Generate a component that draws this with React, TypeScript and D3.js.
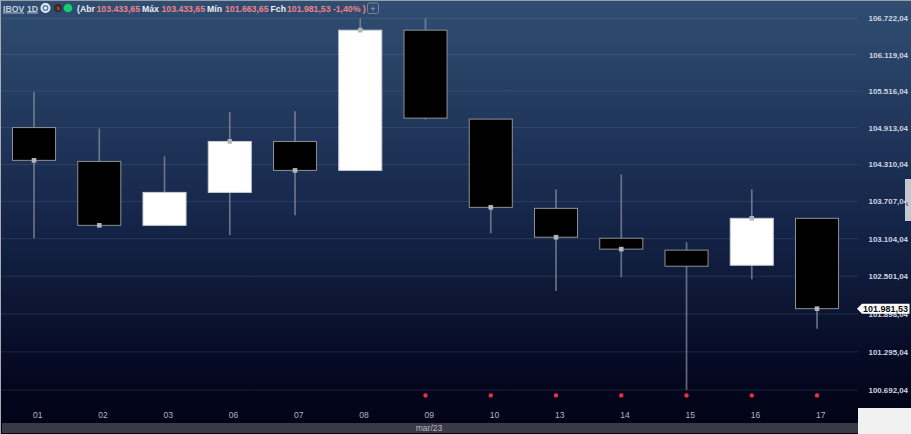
import React, { useEffect, useRef } from 'react';
import * as d3 from 'd3';

const days = ['01', '02', '03', '06', '07', '08', '09', '10', '13', '14', '15', '16', '17'];
const opens = [104913, 104359, 103320, 103854, 104685, 104212, 106524, 105052, 103595, 103112, 102920, 102677, 103433.65];
const closes = [104376, 103320, 103854, 104685, 104212, 106524, 105068, 103611, 103128, 102936, 102661, 103433.65, 101981.53];
const highs = [105500, 104897, 104442, 105167, 105183, 106722, 106722, 105052, 103903, 104147, 103048, 103903, 103433.65];
const lows = [103112, 103320, 103320, 103160, 103482, 104212, 105045, 103192, 102262, 102485, 100692, 102453, 101663.65];

const axisTicks = [106722.04, 106119.04, 105516.04, 104913.04, 104310.04, 103707.04, 103104.04, 102501.04, 101898.04, 101295.04, 100692.04];
const alertDays = ['09', '10', '13', '14', '15', '16', '17'];
// days that show the small square on the close
const markedDays = ['01', '02', '06', '07', '08', '10', '13', '14', '16', '17'];
const lastPrice = 101981.53;
const monthLabel = 'mar/23';

const headerParts = [
  { text: '(Abr', x: 77, color: '#e8edf5' },
  { text: '103.433,65', x: 96.5, color: '#ee8486' },
  { text: 'Máx', x: 142, color: '#e8edf5' },
  { text: '103.433,65', x: 161.5, color: '#ee8486' },
  { text: 'Mín', x: 207, color: '#e8edf5' },
  { text: '101.663,65', x: 225, color: '#ee8486' },
  { text: 'Fch', x: 270.5, color: '#e8edf5' },
  { text: '101.981,53 -1,40% )', x: 287, color: '#ee8486' }
];

const width = 911;
const height = 434;
const fontFamily = '"Liberation Sans", sans-serif';

const fmt = (v: number) =>
  v.toFixed(2).replace('.', ',').replace(/\B(?=(\d{3})+(?!\d))/, '.');

const App: React.FC = () => {
  const svgRef = useRef<SVGSVGElement>(null);

  useEffect(() => {
    if (!svgRef.current) return;
    const svg = d3.select(svgRef.current);
    svg.selectAll('*').remove();

    const plotRight = 858;

    const x = d3.scaleBand<string>()
      .domain(days)
      .range([1.4, 849.65])
      .paddingInner(0.34)
      .paddingOuter(0.17);
    const cx = (d: string) => (x(d) as number) + x.bandwidth() / 2;

    // the platform uses a log price axis, the ticks get wider going down
    const y = d3.scaleLog()
      .domain([106722.04, 100692.04])
      .range([18.3, 390]);

    const defs = svg.append('defs');
    const grad = defs.append('linearGradient')
      .attr('id', 'bg')
      .attr('x1', 0).attr('y1', 0).attr('x2', 0).attr('y2', 1);
    grad.append('stop').attr('offset', '0%').attr('stop-color', '#304e72');
    grad.append('stop').attr('offset', '50%').attr('stop-color', '#15264a');
    grad.append('stop').attr('offset', '90%').attr('stop-color', '#03051c');
    grad.append('stop').attr('offset', '100%').attr('stop-color', '#020318');

    svg.append('rect')
      .attr('width', width).attr('height', height)
      .attr('fill', 'url(#bg)');

    // frame edges
    svg.append('rect').attr('width', width).attr('height', 1).attr('fill', '#9a9ea6');
    svg.append('rect').attr('width', 1).attr('height', height).attr('fill', '#a8abb2');

    // grid
    svg.selectAll('.grid')
      .data(axisTicks)
      .enter()
      .append('line')
      .attr('class', 'grid')
      .attr('x1', 1)
      .attr('x2', plotRight)
      .attr('y1', d => y(d))
      .attr('y2', d => y(d))
      .attr('stroke', '#7d8fb0')
      .attr('stroke-opacity', 0.2)
      .attr('stroke-width', 1);

    const idx = d3.range(days.length);

    // wicks
    svg.selectAll('.wick')
      .data(idx)
      .enter()
      .append('line')
      .attr('class', 'wick')
      .attr('x1', i => cx(days[i]))
      .attr('x2', i => cx(days[i]))
      .attr('y1', i => y(highs[i]))
      .attr('y2', i => y(lows[i]))
      .attr('stroke', '#8b93a0')
      .attr('stroke-opacity', 0.7)
      .attr('stroke-width', 1.7);

    // bodies
    svg.selectAll('.body')
      .data(idx)
      .enter()
      .append('rect')
      .attr('class', 'body')
      .attr('x', i => x(days[i]) as number)
      .attr('width', x.bandwidth())
      .attr('y', i => y(Math.max(opens[i], closes[i])))
      .attr('height', i => Math.abs(y(opens[i]) - y(closes[i])))
      .attr('fill', i => (closes[i] >= opens[i] ? '#ffffff' : '#000000'))
      .attr('stroke', i => (closes[i] >= opens[i] ? '#c8ccd2' : '#8f9194'))
      .attr('stroke-width', 1);

    // close markers
    svg.selectAll('.close-mark')
      .data(idx.filter(i => markedDays.includes(days[i])))
      .enter()
      .append('rect')
      .attr('class', 'close-mark')
      .attr('x', i => cx(days[i]) - 2.3)
      .attr('y', i => y(closes[i]) - 2.3)
      .attr('width', 4.6)
      .attr('height', 4.6)
      .attr('fill', '#b4b6ba');

    // red alert dots
    svg.selectAll('.alert')
      .data(alertDays)
      .enter()
      .append('circle')
      .attr('class', 'alert')
      .attr('cx', d => cx(d))
      .attr('cy', 395.4)
      .attr('r', 2.2)
      .attr('fill', '#f0313c');

    // date labels
    svg.selectAll('.day')
      .data(days)
      .enter()
      .append('text')
      .attr('class', 'day')
      .attr('x', d => cx(d) + 3.7)
      .attr('y', 418)
      .attr('text-anchor', 'middle')
      .attr('font-family', fontFamily)
      .attr('font-size', 8.5)
      .attr('fill', '#b4b6bc')
      .text(d => d);

    // month strip
    svg.append('rect')
      .attr('x', 2).attr('y', 423)
      .attr('width', plotRight - 2).attr('height', 10)
      .attr('fill', '#3a3a46');
    svg.append('text')
      .attr('x', 429).attr('y', 431)
      .attr('text-anchor', 'middle')
      .attr('font-family', fontFamily)
      .attr('font-size', 8.5)
      .attr('fill', '#b8b8c0')
      .text(monthLabel);

    // corner below the price axis
    svg.append('rect')
      .attr('x', 858).attr('y', 408)
      .attr('width', 53).attr('height', 26)
      .attr('fill', '#f1f1f1');

    // price axis labels
    svg.selectAll('.tick-label')
      .data(axisTicks)
      .enter()
      .append('text')
      .attr('class', 'tick-label')
      .attr('x', 908)
      .attr('y', d => y(d) + 3)
      .attr('text-anchor', 'end')
      .attr('font-family', fontFamily)
      .attr('font-size', 7.9)
      .attr('font-weight', 700)
      .attr('fill', '#cfd6e2')
      .text(d => fmt(d));

    // last price tag
    const py = y(lastPrice);
    svg.append('path')
      .attr('d', `M857,${py} L862,${py - 5} H909.5 V${py + 5} H862 Z`)
      .attr('fill', '#ffffff');
    svg.append('text')
      .attr('x', 908)
      .attr('y', py + 3.3)
      .attr('text-anchor', 'end')
      .attr('font-family', fontFamily)
      .attr('font-size', 9)
      .attr('font-weight', 700)
      .attr('fill', '#111111')
      .text(fmt(lastPrice));

    // collapse handle on the right edge
    svg.append('rect')
      .attr('x', 905).attr('y', 179)
      .attr('width', 6).attr('height', 42)
      .attr('fill', '#c6c8cf');
    svg.append('text')
      .attr('x', 905.5).attr('y', 207)
      .attr('font-family', fontFamily)
      .attr('font-size', 9)
      .attr('font-weight', 700)
      .attr('fill', '#50545c')
      .text('‹');

    // header
    const header = svg.append('g').attr('font-family', fontFamily);
    header.append('text')
      .attr('x', 3).attr('y', 11.5)
      .attr('font-size', 8.7)
      .attr('font-weight', 700)
      .attr('fill', '#c5d0de')
      .attr('text-decoration', 'underline')
      .text('IBOV');
    header.append('text')
      .attr('x', 27).attr('y', 11.5)
      .attr('font-size', 8.7)
      .attr('font-weight', 700)
      .attr('fill', '#c5d0de')
      .attr('text-decoration', 'underline')
      .text('1D');

    header.append('circle').attr('cx', 45.5).attr('cy', 8).attr('r', 4).attr('fill', '#4a7cb0')
      .attr('stroke', '#e6ebf2').attr('stroke-width', 2);
    header.append('circle').attr('cx', 45.5).attr('cy', 8).attr('r', 1.6).attr('fill', '#ffffff');
    header.append('circle').attr('cx', 58).attr('cy', 8).attr('r', 4.2).attr('fill', '#3c2c28');
    header.append('text')
      .attr('x', 58).attr('y', 10.5)
      .attr('text-anchor', 'middle')
      .attr('font-size', 8)
      .attr('font-weight', 700)
      .attr('fill', '#e8801c')
      .text('›');
    header.append('circle').attr('cx', 68).attr('cy', 8).attr('r', 4.3).attr('fill', '#12cf6d');

    header.selectAll('.part')
      .data(headerParts)
      .enter()
      .append('text')
      .attr('class', 'part')
      .attr('x', d => d.x)
      .attr('y', 11.5)
      .attr('font-size', 8.7)
      .attr('font-weight', 700)
      .attr('fill', d => d.color)
      .text(d => d.text);

    header.append('rect')
      .attr('x', 367.5).attr('y', 3)
      .attr('width', 11).attr('height', 10.5)
      .attr('rx', 2)
      .attr('fill', 'none')
      .attr('stroke', '#76849a')
      .attr('stroke-width', 1);
    header.append('text')
      .attr('x', 373).attr('y', 11.5)
      .attr('text-anchor', 'middle')
      .attr('font-size', 9)
      .attr('fill', '#a0acbc')
      .text('+');
  }, []);

  return (
    <svg
      ref={svgRef}
      width={width}
      height={height}
      style={{ position: 'absolute', left: 0, top: 0, display: 'block' }}
    />
  );
};

export default App;
